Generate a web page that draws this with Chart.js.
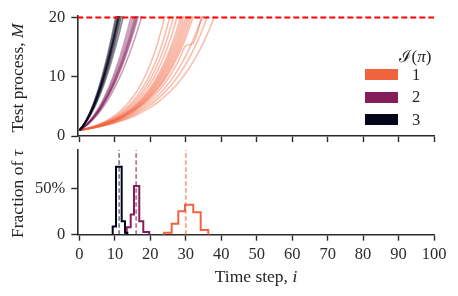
<!DOCTYPE html>
<html>
<head>
<meta charset="utf-8">
<script src="https://cdn.jsdelivr.net/npm/chart.js@4.4.1/dist/chart.umd.min.js"></script>
<style>
  body { margin: 0; background: #fff; }
  #wrap { position: relative; width: 458px; height: 296px; background: #fff; overflow: hidden;
          font-family: "Liberation Serif", "DejaVu Serif", serif; color: #262626; }
  canvas { position: absolute; left: 0; }
  #topChart { top: 0; }
  #bottomChart { top: 134px; }
  .lbl { position: absolute; white-space: nowrap; font-size: 16.5px; transform: translate(-50%, -50%); }
  .rot { transform: translate(-50%, -50%) rotate(-90deg); }
  .sw { position: absolute; left: 365px; width: 33px; height: 11px; }
</style>
</head>
<body>
<div id="wrap">
  <canvas id="topChart" width="458" height="152"></canvas>
  <canvas id="bottomChart" width="458" height="162"></canvas>

  <div class="lbl rot" style="left:17px; top:78px; font-size:17.5px;">Test process, <i>M</i></div>
  <div class="lbl rot" style="left:17px; top:194px; font-size:17.5px;">Fraction of <i>τ</i></div>
  <div class="lbl" style="left:256px; top:276px; font-size:17.5px;">Time step, <i>i</i></div>

  <!-- legenda -->
  <div class="lbl" style="left:415px; top:55px; font-size:17px;">ℐ(<i>π</i>)</div>
  <div class="sw" id="sw1" style="top:69px;"></div>
  <div class="sw" id="sw2" style="top:92px;"></div>
  <div class="sw" id="sw3" style="top:114px;"></div>
  <div class="lbl" style="left:416px; top:75px;">1</div>
  <div class="lbl" style="left:416px; top:97px;">2</div>
  <div class="lbl" style="left:416px; top:120px;">3</div>
</div>

<script>
// Datos
const groupNames = ['1', '2', '3'];
const groupColors = ['#f0633f', '#841e5a', '#03051a'];
const threshold = 20;

const xTicks = [0, 10, 20, 30, 40, 50, 60, 70, 80, 90, 100];
const yTicksTop = [0, 10, 20];
const yTicksBottom = [0, 0.5];
const yTickLabelsBottom = ['0', '50%'];

// trayectorias M por paso i (grupo 3, paso 1)
const runs3 = [
  [1, 1.80, 2.83, 4.08, 5.58, 7.30, 9.25, 11.44, 13.86, 16.51, 19.40, 22.5],
  [1, 1.77, 2.76, 3.97, 5.40, 7.04, 8.90, 10.99, 13.29, 15.81, 18.55, 21.5],
  [1, 1.75, 2.70, 3.86, 5.23, 6.80, 8.58, 10.57, 12.76, 15.16, 17.77, 20.58],
  [1, 1.74, 2.68, 3.82, 5.17, 6.72, 8.47, 10.43, 12.59, 14.95, 17.51, 20.28],
  [1, 1.73, 2.66, 3.79, 5.12, 6.65, 8.37, 10.30, 12.43, 14.75, 17.27, 20.0, 22.9],
  [1, 1.72, 2.64, 3.76, 5.07, 6.57, 8.28, 10.18, 12.27, 14.55, 17.04, 19.72, 22.6],
  [1, 1.72, 2.62, 3.72, 5.02, 6.50, 8.18, 10.05, 12.11, 14.36, 16.81, 19.45, 22.3],
  [1, 1.70, 2.57, 3.63, 4.87, 6.30, 7.90, 9.69, 11.66, 13.82, 16.15, 18.67, 21.37],
  [1, 1.67, 2.52, 3.55, 4.74, 6.11, 7.65, 9.36, 11.25, 13.31, 15.54, 17.95, 20.52],
  [1, 1.64, 2.45, 3.41, 4.53, 5.81, 7.26, 8.86, 10.62, 12.54, 14.62, 16.85, 19.25, 21.8]
];
// grupo 2, paso 1
const runs2 = [
  [1, 1.45, 1.99, 2.66, 3.44, 4.33, 5.36, 6.52, 7.83, 9.27, 10.86, 12.62, 14.51, 16.59, 18.82, 21.23],
  [1, 1.43, 1.96, 2.59, 3.33, 4.19, 5.15, 6.24, 7.47, 8.82, 10.32, 11.95, 13.74, 15.67, 17.76, 19.99, 22.4],
  [1, 1.42, 1.92, 2.53, 3.22, 4.04, 4.95, 5.99, 7.13, 8.42, 9.82, 11.35, 13.03, 14.84, 16.79, 18.90, 21.15],
  [1, 1.42, 1.90, 2.50, 3.18, 3.97, 4.86, 5.87, 6.99, 8.22, 9.59, 11.08, 12.70, 14.46, 16.35, 18.40, 20.57],
  [1, 1.41, 1.89, 2.47, 3.13, 3.90, 4.77, 5.75, 6.84, 8.02, 9.36, 10.81, 12.38, 14.08, 15.91, 17.89, 19.99, 22.25],
  [1, 1.40, 1.87, 2.44, 3.09, 3.84, 4.69, 5.65, 6.70, 7.86, 9.15, 10.56, 12.09, 13.74, 15.52, 17.43, 19.48, 21.66],
  [1, 1.39, 1.86, 2.41, 3.05, 3.77, 4.60, 5.53, 6.56, 7.70, 8.94, 10.31, 11.80, 13.40, 15.12, 16.96, 18.96, 21.07],
  [1, 1.37, 1.80, 2.31, 2.90, 3.56, 4.31, 5.15, 6.08, 7.10, 8.22, 9.44, 10.76, 12.20, 13.73, 15.37, 17.13, 19.01, 21.01]
];
// grupo 1, cada 2 pasos
const runs1Stride = 2;
const runs1 = [
  [1, 1.284, 1.648, 2.115, 2.715, 3.485, 4.473, 5.742, 7.371, 9.461, 12.14, 15.59, 20.01, 25.7],
  [1, 1.265, 1.600, 2.024, 2.560, 3.238, 4.096, 5.181, 6.554, 8.290, 10.49, 13.26, 16.78, 21.22],
  [1, 1.254, 1.572, 1.971, 2.471, 3.097, 3.883, 4.868, 6.104, 7.651, 9.593, 12.03, 15.08, 18.90, 23.70],
  [1, 1.244, 1.546, 1.923, 2.391, 2.973, 3.697, 4.597, 5.716, 7.107, 8.837, 10.99, 13.67, 16.99, 21.13],
  [1, 1.234, 1.523, 1.879, 2.318, 2.861, 3.530, 4.355, 5.374, 6.632, 8.182, 10.10, 12.46, 15.37, 18.97, 23.41],
  [1, 1.230, 1.512, 1.859, 2.285, 2.810, 3.454, 4.247, 5.222, 6.420, 7.893, 9.705, 11.93, 14.67, 18.04, 22.18],
  [1, 1.225, 1.501, 1.839, 2.253, 2.761, 3.382, 4.144, 5.078, 6.221, 7.622, 9.339, 11.44, 14.02, 17.18, 21.04],
  [1, 1.221, 1.491, 1.821, 2.223, 2.715, 3.315, 4.048, 4.943, 6.036, 7.370, 9.000, 10.99, 13.42, 16.38, 20.00, 24.4],
  [1, 1.217, 1.481, 1.803, 2.195, 2.671, 3.251, 3.957, 4.816, 5.862, 7.135, 8.684, 10.57, 12.87, 15.66, 19.06, 23.20],
  [1, 1.213, 1.472, 1.786, 2.167, 2.629, 3.189, 3.869, 4.695, 5.696, 6.910, 8.384, 10.17, 12.34, 14.97, 18.17, 22.04],
  [1, 1.210, 1.463, 1.769, 2.140, 2.588, 3.131, 3.786, 4.580, 5.539, 6.699, 8.103, 9.800, 11.85, 14.34, 17.34, 20.97],
  [1, 1.206, 1.454, 1.754, 2.115, 2.550, 3.076, 3.709, 4.473, 5.394, 6.505, 7.844, 9.460, 11.41, 13.76, 16.59, 20.0, 24.1],
  [1, 1.199, 1.438, 1.724, 2.068, 2.479, 2.973, 3.565, 4.275, 5.126, 6.147, 7.371, 8.838, 10.60, 12.71, 15.24, 15.6, 18.9, 22.4],
  [1, 1.190, 1.415, 1.684, 2.003, 2.384, 2.836, 3.373, 4.013, 4.775, 5.680, 6.758, 8.040, 9.565, 11.38, 13.54, 16.11, 19.16, 22.80],
  [1, 1.181, 1.395, 1.647, 1.946, 2.298, 2.714, 3.205, 3.786, 4.471, 5.280, 6.236, 7.365, 8.699, 10.27, 12.13, 14.33, 16.93, 19.99, 23.61],
  [1, 1.171, 1.371, 1.605, 1.879, 2.200, 2.576, 3.016, 3.531, 4.134, 4.840, 5.667, 6.635, 7.769, 9.096, 10.65, 12.47, 14.60, 17.10, 20.01, 23.43]
];

// histogramas de tau (bordes y fraccion)
const histEdges1 = [23.85, 26.02, 27.88, 29.77, 32.11, 34.2, 36.34];
const histFrac1 = [0.02, 0.12, 0.255, 0.325, 0.245, 0.05];
const histEdges2 = [13.33, 14.46, 15.39, 16.88, 18.01, 19.7];
const histFrac2 = [0.08, 0.22, 0.53, 0.145, 0.03];
const histEdges3 = [9.38, 10.31, 11.92, 12.85, 13.5];
const histFrac3 = [0.09, 0.74, 0.145, 0.02];
const meanTau = [30.0, 16.0, 11.2];

// Estilo
const X_MIN = -0.6, X_MAX = 100;
const Y_TOP_MAX = 20.27, Y_BOT_MAX = 0.922;
const ink = '#2b2b2b';
const tickFont = { family: '"Liberation Serif", "DejaVu Serif", serif', size: 16.5 };

function rgba(hex, a) {
  const n = parseInt(hex.slice(1), 16);
  return `rgba(${n >> 16}, ${(n >> 8) & 255}, ${n & 255}, ${a})`;
}

groupColors.forEach((c, k) => { document.getElementById('sw' + (k + 1)).style.background = c; });

function runDataset(vals, stride, color, alpha) {
  return {
    data: vals.map((v, k) => ({ x: k * stride, y: v })),
    borderColor: rgba(color, alpha),
    borderWidth: 1.6,
    pointRadius: 0,
    cubicInterpolationMode: 'monotone',
    fill: false,
    clip: 0
  };
}

function histDataset(edges, frac, color) {
  const pts = [{ x: edges[0], y: 0 }];
  frac.forEach((f, k) => pts.push({ x: edges[k], y: f }));
  pts.push({ x: edges[edges.length - 1], y: 0 });
  return {
    data: pts,
    borderColor: color,
    borderWidth: 2,
    pointRadius: 0,
    stepped: 'before',
    fill: false
  };
}

function axisX(showLabels, height, pad) {
  return {
    type: 'linear',
    min: X_MIN,
    max: X_MAX,
    afterBuildTicks: s => { s.ticks = xTicks.map(v => ({ value: v })); },
    afterFit: s => { s.height = height; },
    grid: { drawOnChartArea: false, drawTicks: true, tickLength: 6, tickWidth: 1.4, tickColor: ink },
    border: { display: true, color: ink, width: 1.6 },
    ticks: { display: showLabels, color: ink, font: tickFont, padding: pad, maxRotation: 0 }
  };
}

function axisY(max, ticks, labels) {
  return {
    type: 'linear',
    min: 0,
    max: max,
    afterBuildTicks: s => { s.ticks = ticks.map(v => ({ value: v })); },
    afterFit: s => { s.width = 77.3; },
    grid: { drawOnChartArea: false, drawTicks: true, tickLength: 6, tickWidth: 1.4, tickColor: ink },
    border: { display: true, color: ink, width: 1.6 },
    ticks: {
      color: ink, font: tickFont, padding: 6,
      callback: v => labels ? labels[ticks.indexOf(v)] : String(v)
    }
  };
}

const commonOpts = {
  responsive: false,
  animation: false,
  events: [],
  plugins: { legend: { display: false }, tooltip: { enabled: false } }
};

// Grafica superior: trayectorias
const topSets = [{
  data: [{ x: X_MIN, y: threshold }, { x: X_MAX, y: threshold }],
  borderColor: '#ff0000',
  borderWidth: 1.8,
  borderDash: [6, 3],
  pointRadius: 0,
  fill: false
}];
runs3.forEach(r => topSets.push(runDataset(r, 1, groupColors[2], 0.45)));
runs2.forEach(r => topSets.push(runDataset(r, 1, groupColors[1], 0.42)));
runs1.forEach(r => topSets.push(runDataset(r, runs1Stride, groupColors[0], 0.42)));

new Chart(document.getElementById('topChart'), {
  type: 'line',
  data: { datasets: topSets },
  options: Object.assign({}, commonOpts, {
    layout: { padding: { top: 15.3, right: 24, left: 0, bottom: 0 } },
    scales: { x: axisX(false, 8, 0), y: axisY(Y_TOP_MAX, yTicksTop, null) }
  })
});

// Grafica inferior: histogramas de tau
const bottomSets = [];
const meanAlpha = [0.6, 0.6, 0.5];
meanTau.forEach((m, k) => bottomSets.push({
  data: [{ x: m, y: 0 }, { x: m, y: Y_BOT_MAX }],
  borderColor: rgba(groupColors[k], meanAlpha[k]),
  borderWidth: 1.8,
  borderDash: [4.5, 2.5],
  pointRadius: 0,
  fill: false
}));
bottomSets.push(histDataset(histEdges3, histFrac3, groupColors[2]));
bottomSets.push(histDataset(histEdges2, histFrac2, groupColors[1]));
bottomSets.push(histDataset(histEdges1, histFrac1, groupColors[0]));

new Chart(document.getElementById('bottomChart'), {
  type: 'line',
  data: { datasets: bottomSets },
  options: Object.assign({}, commonOpts, {
    layout: { padding: { top: 14, right: 24, left: 0, bottom: 0 } },
    scales: { x: axisX(true, 61.3, 4), y: axisY(Y_BOT_MAX, yTicksBottom, yTickLabelsBottom) }
  })
});
</script>
</body>
</html>
